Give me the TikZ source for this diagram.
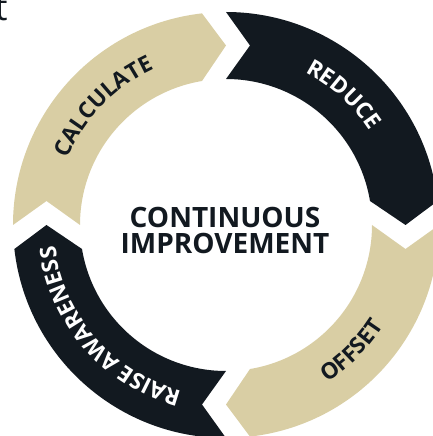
\documentclass[tikz,border=0pt]{standalone}
\usepackage{fontspec}
\setmainfont{Open Sans}
\usetikzlibrary{decorations.text}
\definecolor{sand}{RGB}{217,206,164}
\definecolor{ink}{RGB}{18,25,32}
\newcommand\lblfont{\bfseries\fontsize{22.5}{26}\selectfont}
\tikzset{
  ringtext/.style={decorate,decoration={text along path,text align=center,text={#1}}},
}
\begin{document}
\begin{tikzpicture}[x=1pt,y=1pt]
\useasboundingbox (-226,-211) rectangle (206,225);
% ring of four arrow segments
\foreach \rot/\col in {0/sand,-90/ink,-180/sand,-270/ink}{
  \fill[\col,rotate=\rot] (180:213) arc[start angle=180,end angle=96.47,radius=213]
    -- (0,179.5) -- (99.46:146) arc[start angle=99.46,end angle=180,radius=146]
    -- (-179.5,24) -- cycle;
}
% labels along the ring
\path[ringtext={|\lblfont\color{ink}|CALCULATE}] (206:172) arc[start angle=206,end angle=66,radius=172];
\path[ringtext={|\lblfont\color{white}|REDUCE}] (118:172) arc[start angle=118,end angle=-22,radius=172];
\path[ringtext={|\lblfont\color{ink}|OFFSET}] (-115:187) arc[start angle=-115,end angle=25,radius=187];
\path[ringtext={|\lblfont\color{white}|RAISE AWARENESS}] (316:172) arc[start angle=316,end angle=126,radius=172];
\node[font=\bfseries\fontsize{28}{26}\selectfont,text=ink,align=center] (title) at (-1,-5) {CONTINUOUS\\IMPROVEMENT};
\node[font=\fontsize{36}{36}\selectfont,text=ink,anchor=base east] (cut) at (-215,204) {t};
\end{tikzpicture}
\end{document}
